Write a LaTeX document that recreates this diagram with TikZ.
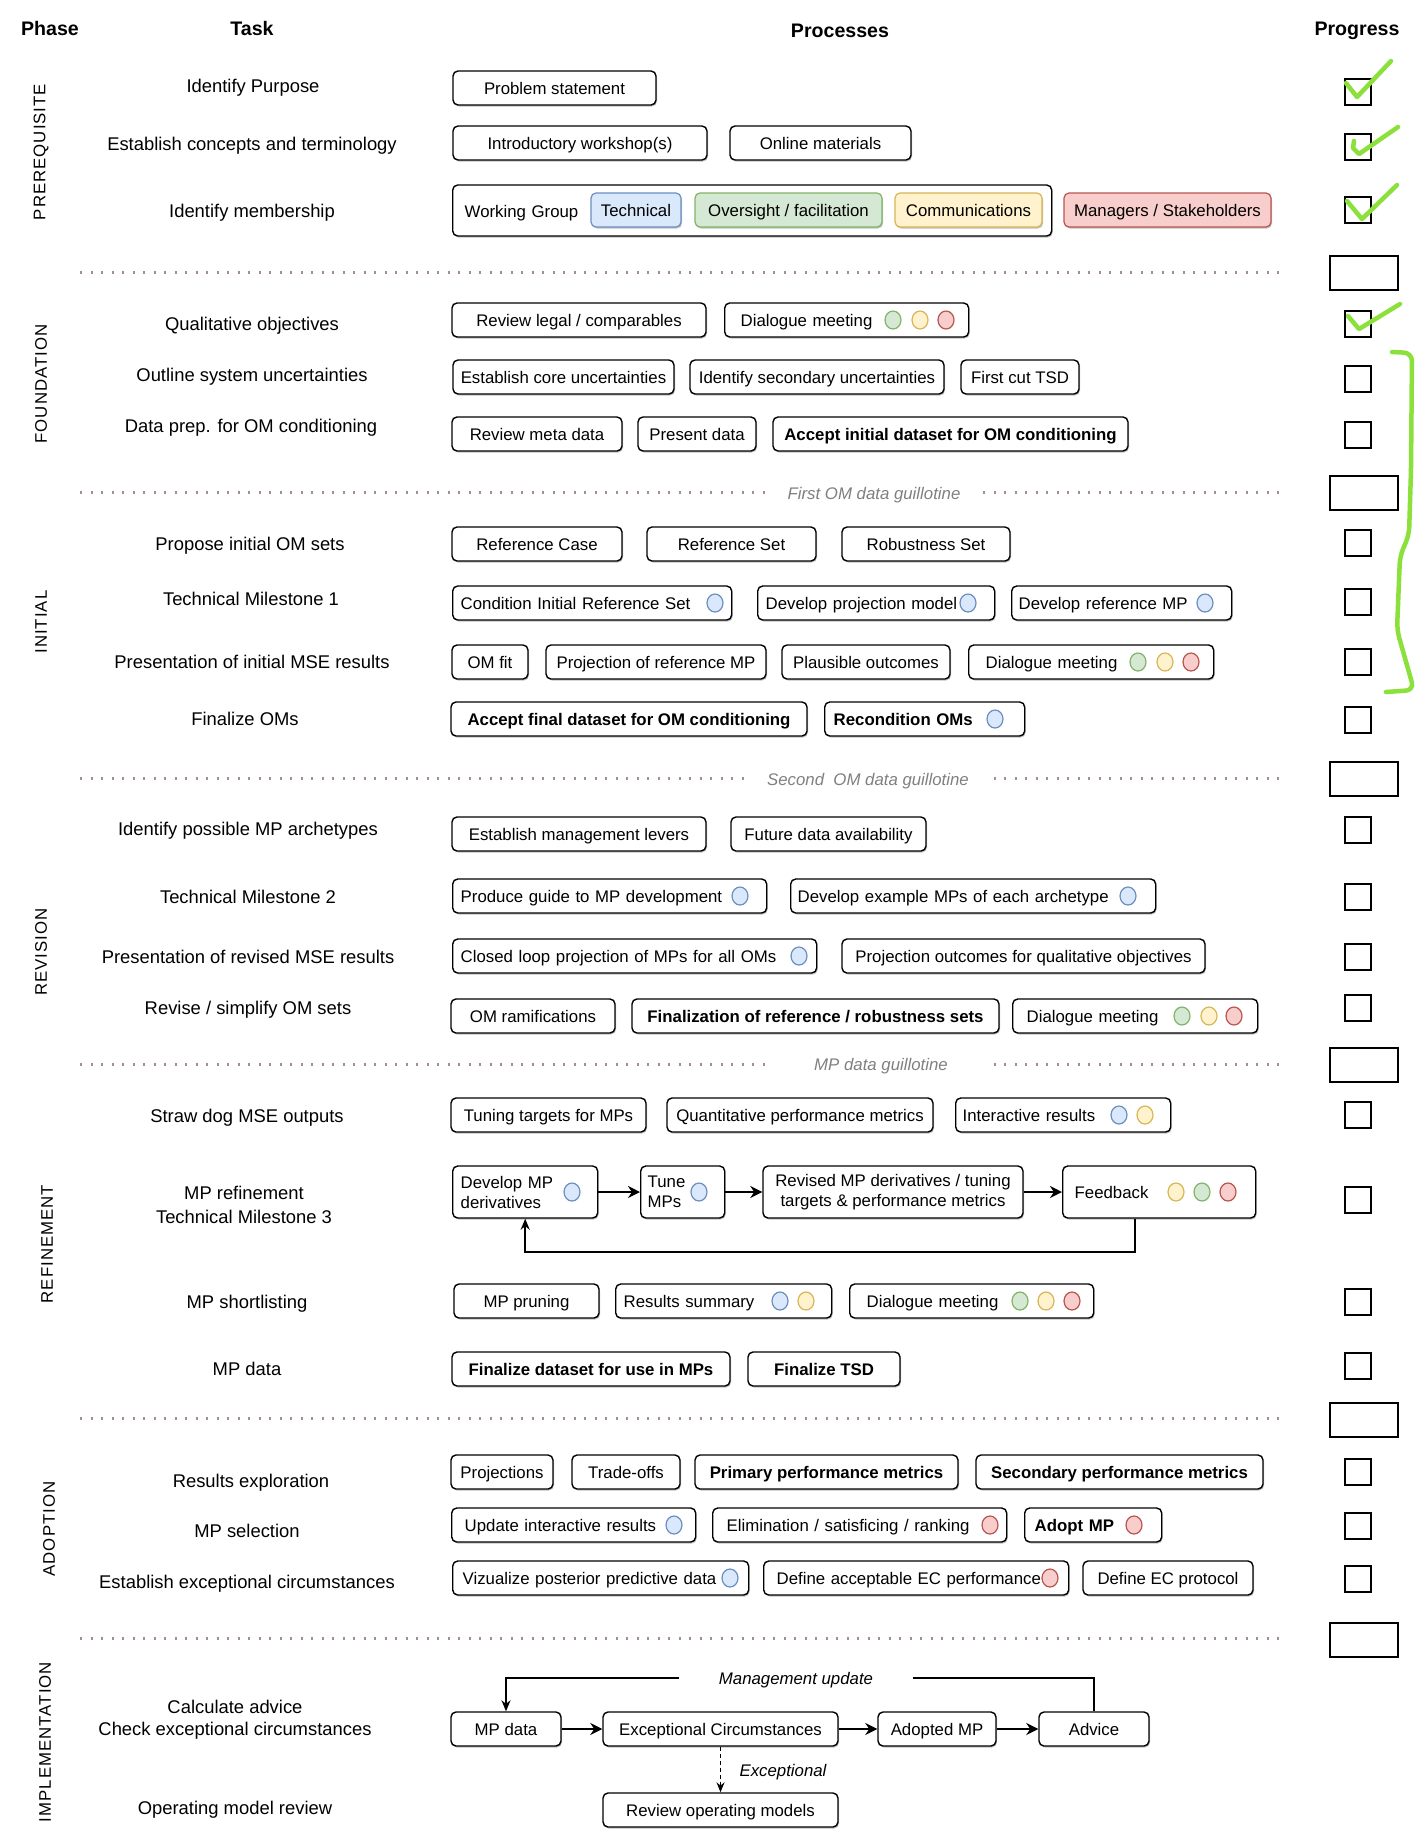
\documentclass[tikz,border=0pt]{standalone}
\usepackage{fontspec}
\setmainfont{Liberation Sans}
\newfontfamily\phasefont[LetterSpace=6]{Liberation Sans}
\usetikzlibrary{arrows.meta,shadows,shapes.geometric}
\definecolor{techfill}{HTML}{DAE8FC}
\definecolor{techline}{HTML}{6C8EBF}
\definecolor{oversfill}{HTML}{D5E8D4}
\definecolor{oversline}{HTML}{82B366}
\definecolor{commfill}{HTML}{FFF2CC}
\definecolor{commline}{HTML}{D6B656}
\definecolor{mgrfill}{HTML}{F8CECC}
\definecolor{mgrline}{HTML}{B85450}
\definecolor{guilline}{HTML}{A48E8E}
\definecolor{tickgreen}{HTML}{8BE03C}

\begin{document}
\begin{tikzpicture}[x=1pt, y=-1pt,
  font=\fontsize{16.8}{20}\selectfont,
  twoline/.style={draw, fill=white, rounded corners=5pt, line width=1.4pt,
               minimum height=34pt, inner xsep=3pt,
               drop shadow={shadow xshift=1pt, shadow yshift=-1.5pt, opacity=0.35, fill=black!70}},
  proc/.style={twoline, text height=14.6pt, text depth=1pt},
  boldproc/.style={proc, font=\fontsize{16.8}{20}\selectfont\bfseries},
  cproc/.style={proc, anchor=west, align=left},
  techbox/.style={proc, line width=1.2pt, fill=techfill, draw=techline},
  oversbox/.style={proc, line width=1.2pt, fill=oversfill, draw=oversline},
  commbox/.style={proc, line width=1.2pt, fill=commfill, draw=commline},
  mgrbox/.style={proc, line width=1.2pt, fill=mgrfill, draw=mgrline},
  dot/.style={ellipse, minimum width=16pt, minimum height=18pt, inner sep=0pt, line width=1.2pt},
  dotb/.style={dot, fill=techfill, draw=techline},
  dotg/.style={dot, fill=oversfill, draw=oversline},
  doty/.style={dot, fill=commfill, draw=commline},
  dotr/.style={dot, fill=mgrfill, draw=mgrline},
  task/.style={font=\fontsize{18.4}{24}\selectfont, align=center},
  stask/.style={task, text height=15.5pt, text depth=2pt},
  head/.style={font=\fontsize{19.6}{23}\selectfont\bfseries, text height=16.5pt, text depth=2pt},
  phase/.style={font=\phasefont\fontsize{16.8}{20}\selectfont, rotate=90},
  guil/.style={draw=guilline, line width=3pt, dash pattern=on 2.2pt off 8.3pt},
  glabel/.style={font=\fontsize{16.8}{20}\selectfont\itshape, text=black!50, fill=white,
                 inner ysep=1pt, text height=14.5pt, text depth=1.5pt},
  chk/.style={draw, fill=white, line width=1.5pt, minimum size=26pt, inner sep=0pt,
              drop shadow={shadow xshift=0.8pt, shadow yshift=-1pt, opacity=0.3}},
  wchk/.style={chk, minimum width=68pt, minimum height=34pt},
  tick/.style={draw=tickgreen, line width=4.5pt, line cap=round, line join=round},
  flow/.style={-{Stealth[length=12pt, width=12pt]}, line width=2.2pt},
  thinflow/.style={-{Stealth[length=11pt, width=9pt]}, line width=1.5pt},
  dflow/.style={-{Stealth[length=10pt, width=8pt]}, line width=1.3pt, dash pattern=on 4pt off 3pt},
  note/.style={font=\fontsize{16.8}{20}\selectfont\itshape, text height=14.5pt, text depth=1.5pt},
]
  \useasboundingbox (0,0) rectangle (1417,1840);

  % Column heads
  \node[head] (hphase) at (50,28) {Phase};
  \node[head] (htask) at (252,28) {Task};
  \node[head] (hproc) at (840,30) {Processes};
  \node[head] (hprog) at (1357,28) {Progress};

  % Phases
  \node[phase] (ph1) at (41,152) {PREREQUISITE};
  \node[phase] (ph2) at (41,384) {FOUNDATION};
  \node[phase] (ph3) at (41,622) {INITIAL};
  \node[phase] (ph4) at (41,952) {REVISION};
  \node[phase] (ph5) at (47,1244) {REFINEMENT};
  \node[phase] (ph6) at (49,1529) {ADOPTION};
  \node[phase] (ph7) at (45,1742) {IMPLEMENTATION};

  % Guillotines between the phases
  \draw[guil] (80,272) -- (1280,272);
  \draw[guil] (80,492) -- (1280,492);
  \draw[guil] (80,778) -- (1280,778);
  \draw[guil] (80,1064) -- (1280,1064);
  \draw[guil] (80,1418) -- (1280,1418);
  \draw[guil] (80,1638) -- (1280,1638);
  \node[glabel, inner xsep=20pt] (g1) at (874,493) {First OM data guillotine};
  \node[glabel, inner xsep=22pt] (g2) at (868,779) {Second~ OM data guillotine};
  \node[glabel, inner xsep=42pt] (g3) at (881,1064) {MP data guillotine};

  % Tasks
  \node[stask] (t1) at (253,86) {Identify Purpose};
  \node[stask] (t2) at (252,144) {Establish concepts and terminology};
  \node[stask] (t3) at (252,211) {Identify membership};
  \node[stask] (t4) at (252,324) {Qualitative objectives};
  \node[stask] (t5) at (252,375) {Outline system uncertainties};
  \node[stask] (t6) at (251,426) {Data prep. for OM conditioning};
  \node[stask] (t7) at (250,544) {Propose initial OM sets};
  \node[stask] (t8) at (251,599) {Technical Milestone 1};
  \node[stask] (t9) at (252,662) {Presentation of initial MSE results};
  \node[stask] (t10) at (245,719) {Finalize OMs};
  \node[stask] (t11) at (248,829) {Identify possible MP archetypes};
  \node[stask] (t12) at (248,897) {Technical Milestone 2};
  \node[stask] (t13) at (248,957) {Presentation of revised MSE results};
  \node[stask] (t14) at (248,1008) {Revise / simplify OM sets};
  \node[stask] (t15) at (247,1116) {Straw dog MSE outputs};
  \node[task] (t16) at (244,1205) {MP refinement\\Technical Milestone 3};
  \node[stask] (t17) at (247,1302) {MP shortlisting};
  \node[stask] (t18) at (247,1369) {MP data};
  \node[stask] (t19) at (251,1481) {Results exploration};
  \node[stask] (t20) at (247,1531) {MP selection};
  \node[stask] (t21) at (247,1582) {Establish exceptional circumstances};
  \node[task, font=\fontsize{18.4}{22}\selectfont] (t22) at (235,1720) {Calculate advice\\Check exceptional circumstances};
  \node[stask] (t23) at (235,1808) {Operating model review};

  % Prerequisite
  \node[proc, minimum width=203pt] (ps) at (554.5,88) {Problem statement};
  \node[proc, minimum width=254pt] (iw) at (580,143) {Introductory workshop(s)};
  \node[proc, minimum width=181pt] (om) at (820.5,143) {Online materials};
  \node[cproc, inner xsep=12pt, text width=575pt, minimum height=51pt] (wg) at (452,210.5) {Working Group};
  \node[techbox, minimum width=90pt] (wgt) at (636,210) {Technical};
  \node[oversbox, minimum width=187pt] (wgo) at (788.5,210) {Oversight / facilitation};
  \node[commbox, minimum width=147pt] (wgc) at (968.5,210) {Communications};
  \node[mgrbox, minimum width=207pt] (mgr) at (1167.5,210) {Managers / Stakeholders};

  % Foundation
  \node[proc, minimum width=254pt] (rl) at (579,320) {Review legal / comparables};
  \node[cproc, inner xsep=16pt, text width=212pt] (fdm) at (724,320) {Dialogue meeting};
  \foreach \x/\s [count=\i] in {893/dotg, 920/doty, 946/dotr}
    \node[\s] (fdm\i) at (\x,320) {};
  \node[proc, minimum width=221pt] (cu) at (563.5,377) {Establish core uncertainties};
  \node[proc, minimum width=254pt] (su) at (817,377) {Identify secondary uncertainties};
  \node[proc, minimum width=118pt] (tsd) at (1020,377) {First cut TSD};
  \node[proc, minimum width=170pt] (md) at (537,434) {Review meta data};
  \node[proc, minimum width=118pt] (pd) at (697,434) {Present data};
  \node[boldproc, minimum width=355pt] (aid) at (950.5,434) {Accept initial dataset for OM conditioning};

  % Initial
  \node[proc, minimum width=170pt] (rc) at (537,544) {Reference Case};
  \node[proc, minimum width=169pt] (rs) at (731.5,544) {Reference Set};
  \node[proc, minimum width=168pt] (rbs) at (926,544) {Robustness Set};
  \node[cproc, inner xsep=8pt, text width=263pt] (cir) at (452,603) {Condition Initial Reference Set};
  \node[dotb] (cir1) at (715,603) {};
  \node[cproc, inner xsep=8pt, text width=221pt] (dpm) at (757,603) {Develop projection model};
  \node[dotb] (dpm1) at (968,603) {};
  \node[cproc, inner xsep=7pt, text width=206pt] (drm) at (1011,603) {Develop reference MP};
  \node[dotb] (drm1) at (1205,603) {};
  \node[proc, minimum width=76pt] (omf) at (490,662) {OM fit};
  \node[proc, minimum width=220pt] (prm) at (656,662) {Projection of reference MP};
  \node[proc, minimum width=168pt] (plo) at (866,662) {Plausible outcomes};
  \node[cproc, inner xsep=17pt, text width=211pt] (idm) at (968,662) {Dialogue meeting};
  \foreach \x/\s [count=\i] in {1138/dotg, 1165/doty, 1191/dotr}
    \node[\s] (idm\i) at (\x,662) {};
  \node[boldproc, minimum width=356pt] (afd) at (629,719) {Accept final dataset for OM conditioning};
  \node[cproc, inner xsep=9pt, text width=182pt, font=\fontsize{16.8}{20}\selectfont\bfseries] (rom) at (824,719) {Recondition OMs};
  \node[dotb] (rom1) at (995,719) {};

  % Revision
  \node[proc, minimum width=254pt] (eml) at (579,834) {Establish management levers};
  \node[proc, minimum width=195pt] (fda) at (828.5,834) {Future data availability};
  \node[cproc, inner xsep=8pt, text width=298pt] (pgd) at (452,896) {Produce guide to MP development};
  \node[dotb] (pgd1) at (740,896) {};
  \node[cproc, inner xsep=7pt, text width=351pt] (dex) at (790,896) {Develop example MPs of each archetype};
  \node[dotb] (dex1) at (1128,896) {};
  \node[cproc, inner xsep=8pt, text width=348pt] (clp) at (452,956) {Closed loop projection of MPs for all OMs};
  \node[dotb] (clp1) at (799,956) {};
  \node[proc, minimum width=363pt] (poq) at (1023.5,956) {Projection outcomes for qualitative objectives};
  \node[proc, minimum width=164pt] (omr) at (533,1016) {OM ramifications};
  \node[boldproc, minimum width=367pt] (frs) at (815.5,1016) {Finalization of reference / robustness sets};
  \node[cproc, inner xsep=14pt, text width=217pt] (rdm) at (1012,1016) {Dialogue meeting};
  \foreach \x/\s [count=\i] in {1182/dotg, 1209/doty, 1234/dotr}
    \node[\s] (rdm\i) at (\x,1016) {};

  % Refinement
  \node[proc, minimum width=195pt] (ttm) at (548.5,1115) {Tuning targets for MPs};
  \node[proc, minimum width=266pt] (qpm) at (800,1115) {Quantitative performance metrics};
  \node[cproc, inner xsep=7pt, text width=201pt] (irs) at (955,1115) {Interactive results};
  \foreach \x/\s [count=\i] in {1119/dotb, 1145/doty}
    \node[\s] (irs\i) at (\x,1115) {};
  \node[twoline, anchor=west, align=left, inner xsep=8pt, text width=129pt, minimum height=52pt] (dmp) at (452,1192) {Develop MP\\derivatives};
  \node[dotb] (dmp1) at (572,1192) {};
  \node[twoline, anchor=west, align=left, inner xsep=7pt, text width=70pt, minimum height=52pt] (tmp) at (640,1192) {Tune\\MPs};
  \node[dotb] (tmp1) at (699,1192) {};
  \node[twoline, minimum width=260pt, minimum height=52pt, align=center] (rmd) at (893,1192)
    {Revised MP derivatives / tuning\\targets \& performance metrics};
  \node[cproc, inner xsep=12pt, text width=169pt, minimum height=52pt] (fb) at (1062,1192) {Feedback};
  \foreach \x/\s [count=\i] in {1176/doty, 1202/dotg, 1228/dotr}
    \node[\s] (fb\i) at (\x,1192) {};
  \draw[flow] (dmp) -- (tmp);
  \draw[flow] (tmp) -- (rmd);
  \draw[flow] (rmd) -- (fb);
  \draw[thinflow, line width=2pt] ([xshift=-24pt]fb.south) -- ++(0,33) -| (dmp.south);
  \node[proc, minimum width=145pt] (mpp) at (526.5,1301) {MP pruning};
  \node[cproc, inner xsep=8pt, text width=200pt] (rsu) at (615,1301) {Results summary};
  \foreach \x/\s [count=\i] in {780/dotb, 806/doty}
    \node[\s] (rsu\i) at (\x,1301) {};
  \node[cproc, inner xsep=17pt, text width=210pt] (sdm) at (849,1301) {Dialogue meeting};
  \foreach \x/\s [count=\i] in {1020/dotg, 1046/doty, 1072/dotr}
    \node[\s] (sdm\i) at (\x,1301) {};
  \node[boldproc, minimum width=278pt] (fdu) at (591,1369) {Finalize dataset for use in MPs};
  \node[boldproc, minimum width=152pt] (ftsd) at (824,1369) {Finalize TSD};

  % Adoption
  \node[proc, minimum width=102pt] (prj) at (502,1472) {Projections};
  \node[proc, minimum width=108pt] (tro) at (626,1472) {Trade-offs};
  \node[boldproc, minimum width=263pt] (ppm) at (826.5,1472) {Primary performance metrics};
  \node[boldproc, minimum width=287pt] (spm) at (1119.5,1472) {Secondary performance metrics};
  \node[cproc, inner xsep=13pt, text width=218pt] (uir) at (451,1525) {Update interactive results};
  \node[dotb] (uir1) at (674,1525) {};
  \node[cproc, inner xsep=14pt, text width=266pt] (esr) at (712,1525) {Elimination / satisficing / ranking};
  \node[dotr] (esr1) at (990,1525) {};
  \node[cproc, inner xsep=10pt, text width=117pt, font=\fontsize{16.8}{20}\selectfont\bfseries] (amp) at (1024,1525) {Adopt MP};
  \node[dotr] (amp1) at (1134,1525) {};
  \node[cproc, inner xsep=10pt, text width=276pt] (vpp) at (452,1578) {Vizualize posterior predictive data};
  \node[dotb] (vpp1) at (730,1578) {};
  \node[cproc, inner xsep=13pt, text width=279pt] (dac) at (763,1578) {Define acceptable EC performance};
  \node[dotr] (dac1) at (1050,1578) {};
  \node[proc, minimum width=170pt] (dep) at (1168,1578) {Define EC protocol};

  % Implementation
  \node[proc, minimum width=110pt] (mpd) at (506,1729) {MP data};
  \node[proc, minimum width=235pt] (ecc) at (720.5,1729) {Exceptional Circumstances};
  \node[proc, minimum width=118pt] (amp2) at (937,1729) {Adopted MP};
  \node[proc, minimum width=110pt] (adv) at (1094,1729) {Advice};
  \node[proc, minimum width=235pt] (rom2) at (720.5,1810) {Review operating models};
  \node[note, inner xsep=40pt] (mu) at (796,1678) {Management update};
  \node[note] (exl) at (783,1770) {Exceptional};
  \draw[flow] (mpd) -- (ecc);
  \draw[flow] (ecc) -- (amp2);
  \draw[flow] (amp2) -- (adv);
  \draw[line width=1.5pt] (adv.north) |- (mu.east);
  \draw[thinflow] (mu.west) -| (mpd.north);
  \draw[dflow] (ecc) -- (rom2);

  % Progress boxes
  \foreach \y [count=\i] in {92,147,210,324,379,435,543,602,662,720,830,897,957,1008,1115,1200,1302,1366,1472,1526,1579}
    \node[chk] (chk\i) at (1358,\y) {};
  \foreach \y [count=\i] in {273,493,779,1065,1420,1640}
    \node[wchk] (wchk\i) at (1364,\y) {};

  % Ticks and bracket
  \draw[tick] (1346,83) -- (1357,97) -- (1391,61);
  \draw[tick] (1354,141) -- (1353,148) -- (1359,154) -- (1398,127);
  \draw[tick] (1347,201) -- (1362,219) -- (1397,185);
  \draw[tick] (1348,316) -- (1359,329) -- (1400,304);
  \draw[tick, rounded corners=8pt] (1392,352) -- (1412,353) -- (1411,470) -- (1409,535)
    -- (1400,556) -- (1397,630) -- (1414,690) -- (1386,692);
\end{tikzpicture}
\end{document}
